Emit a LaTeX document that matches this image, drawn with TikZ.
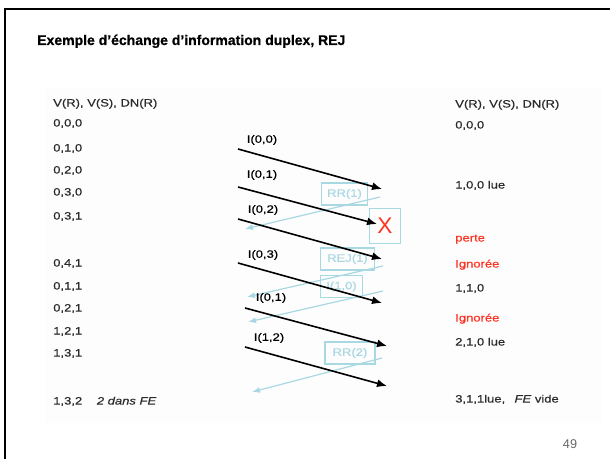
\documentclass[tikz,border=0pt]{standalone}
\usepackage{fontspec}
\setmainfont{Liberation Sans}
\newfontfamily\widesf{Liberation Sans}[FakeStretch=1.22,FakeBold=0.4]
\newfontfamily\titlesf{Liberation Sans}[FakeBold=0.8]
\usepackage{tikz}
\usetikzlibrary{arrows.meta}

\definecolor{repblue}{HTML}{A8D8E2}
\definecolor{losered}{HTML}{FF3322}
\definecolor{txtgray}{HTML}{2A2A2A}
\definecolor{pagegray}{HTML}{666666}
\definecolor{panelgray}{HTML}{FDFDFD}

\begin{document}
\begin{tikzpicture}[x=0.75pt,y=-0.75pt,
    row/.style={anchor=mid west,inner sep=0pt,text=txtgray,font=\widesf\fontsize{8}{9.5}\selectfont},
    redrow/.style={row,text=losered},
    lbl/.style={inner sep=0pt,font=\widesf\fontsize{8}{9.5}\selectfont},
    msg/.style={line width=1.2pt,-{Latex[length=7.5pt,width=6pt]}},
    ack/.style={line width=0.9pt,repblue,-{Latex[length=6pt,width=4.5pt]}},
    ackbox/.style={draw=repblue,line width=0.9pt,text=repblue,inner sep=1pt,
        minimum height=16.5pt,font=\widesf\fontsize{8}{9.5}\selectfont}]
\useasboundingbox (0,0) rectangle (610,459);
\fill[panelgray] (45,88) rectangle (602,423);
\draw[line width=1.9pt] (5,459) -- (5,9) -- (610,9);

\node[anchor=base west,inner sep=0pt,font=\titlesf\bfseries\fontsize{10.5}{12}\selectfont] (title) at (37,45) {Exemple d’échange d’information duplex, REJ};

% station A
\node[row] (a0) at (53,103) {V(R), V(S), DN(R)};
\node[row] (a1) at (53,123) {0,0,0};
\node[row] (a2) at (53,148) {0,1,0};
\node[row] (a3) at (53,170) {0,2,0};
\node[row] (a4) at (53,192) {0,3,0};
\node[row] (a5) at (53,216) {0,3,1};
\node[row] (a6) at (53,263) {0,4,1};
\node[row] (a7) at (53,286) {0,1,1};
\node[row] (a8) at (53,308) {0,2,1};
\node[row] (a9) at (53,331) {1,2,1};
\node[row] (a10) at (53,353) {1,3,1};
\node[row] (a11) at (53,401) {1,3,2\hspace{11pt}\textit{2 dans FE}};

% station B
\node[row] (b0) at (455,104) {V(R), V(S), DN(R)};
\node[row] (b1) at (455,125) {0,0,0};
\node[row] (b2) at (455,185) {1,0,0 lue};
\node[redrow] (b3) at (455,238) {perte};
\node[redrow] (b4) at (455,264) {Ignorée};
\node[row] (b5) at (455,288) {1,1,0};
\node[redrow] (b6) at (455,318) {Ignorée};
\node[row] (b7) at (455,342) {2,1,0 lue};
\node[row] (b8) at (455,399) {3,1,1lue,\hspace{7pt}\textit{FE} vide};

% I frames A -> B
\coordinate (i1s) at (238,149); \coordinate (i1e) at (382,189);
\coordinate (i2s) at (238,187); \coordinate (i2e) at (377,224);
\coordinate (i3s) at (238,219); \coordinate (i3e) at (382,259);
\coordinate (i4s) at (238,263); \coordinate (i4e) at (382,303);
\coordinate (i5s) at (245,308); \coordinate (i5e) at (387,346);
\coordinate (i6s) at (245,347); \coordinate (i6e) at (387,386);

% replies B -> A
\coordinate (rr1s) at (380,197); \coordinate (rr1e) at (245,229);
\coordinate (rejs) at (383,266); \coordinate (reje) at (247,297);
\coordinate (i10s) at (383,291); \coordinate (i10e) at (248,322);
\coordinate (rr2s) at (382,358); \coordinate (rr2e) at (252,392);

\draw[ack] (rr1s) -- (rr1e);
\draw[ack] (rejs) -- (reje);
\draw[ack] (i10s) -- (i10e);
\draw[ack] (rr2s) -- (rr2e);

\node[ackbox,minimum width=35pt] (rr1) at (344.5,194) {RR(1)};
\node[ackbox,minimum width=40pt] (rej) at (347.5,259) {REJ(1)};
\node[ackbox,minimum width=32pt] (i10) at (341.5,286.5) {I(1,0)};
\node[ackbox,minimum width=37.5pt] (rr2) at (350,353) {RR(2)};
\node[draw=repblue,line width=0.9pt,minimum width=23pt,minimum height=26pt,inner sep=0pt,
    text=losered,font=\fontsize{17}{17}\selectfont] (lost) at (385,226) {X};

\draw[msg] (i1s) -- (i1e);
\draw[msg] (i2s) -- (i2e);
\draw[msg] (i3s) -- (i3e);
\draw[msg] (i4s) -- (i4e);
\draw[msg] (i5s) -- (i5e);
\draw[msg] (i6s) -- (i6e);

\node[lbl] (i1l) at (262,140) {I(0,0)};
\node[lbl] (i2l) at (262,175) {I(0,1)};
\node[lbl] (i3l) at (263,210) {I(0,2)};
\node[lbl] (i4l) at (263,255) {I(0,3)};
\node[lbl] (i5l) at (271,298) {I(0,1)};
\node[lbl] (i6l) at (269,338) {I(1,2)};

\node[inner sep=0pt,text=pagegray,font=\fontsize{9.5}{11}\selectfont] (pgno) at (570,444) {49};
\end{tikzpicture}
\end{document}
